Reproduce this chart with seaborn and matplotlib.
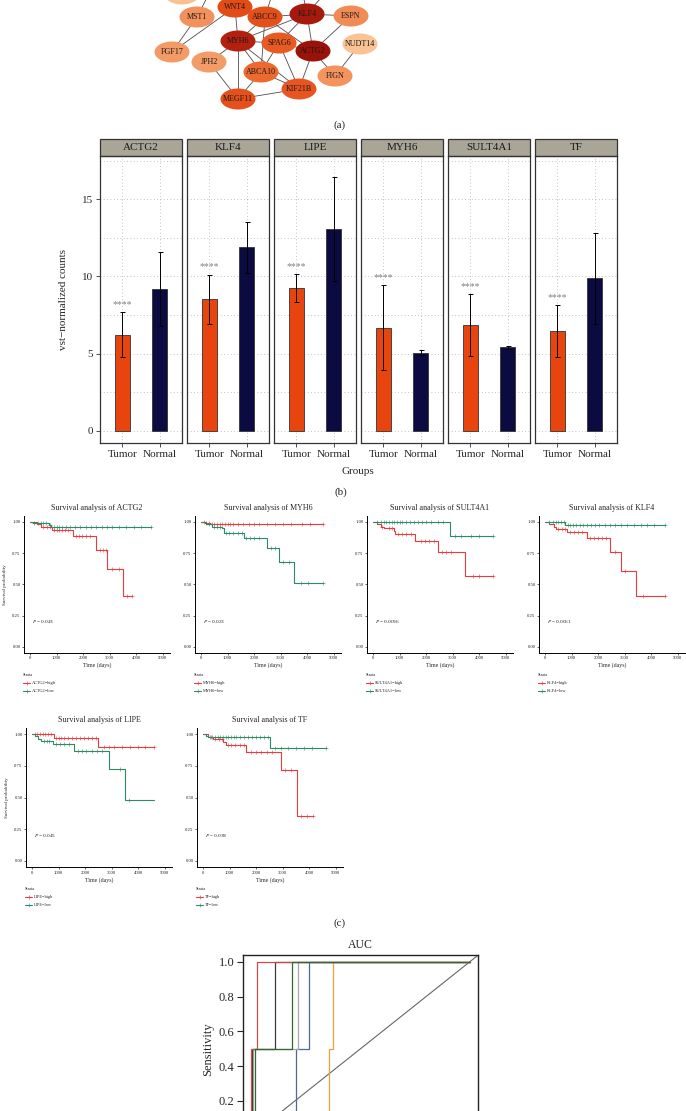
import numpy as np
import pandas as pd
import matplotlib
matplotlib.use("Agg")
import matplotlib.pyplot as plt
from matplotlib.patches import Ellipse, Rectangle
from matplotlib.lines import Line2D
import seaborn as sns

# ---------------- data ----------------
# (a) network
node_names = ["WNT4", "MST1", "ABCC9", "KLF4", "ESPN", "MYH6", "SPAG6", "ACTG2",
              "NUDT14", "FGF17", "JPH2", "ABCA10", "FIGN", "KIF21B", "MEGF11"]
node_colors = ["#E44C17", "#F2915C", "#E4501A", "#A51A0C", "#F28A55", "#B3200E",
               "#E85A22", "#9A1208", "#F9C394", "#F39A66", "#F49C68", "#EC6A30",
               "#F4935D", "#E85520", "#E6501B"]
net_edges = [("FGF17", "MST1"), ("FGF17", "WNT4"), ("WNT4", "MYH6"), ("WNT4", "ABCC9"),
             ("ABCC9", "KLF4"), ("KLF4", "ESPN"), ("KLF4", "ACTG2"), ("KLF4", "SPAG6"),
             ("KLF4", "MYH6"), ("ABCC9", "MYH6"), ("ABCC9", "ABCA10"), ("ABCC9", "ACTG2"),
             ("MYH6", "SPAG6"), ("MYH6", "JPH2"), ("MYH6", "MEGF11"), ("MYH6", "ABCA10"),
             ("MYH6", "KIF21B"), ("SPAG6", "ABCA10"), ("SPAG6", "KIF21B"), ("SPAG6", "ACTG2"),
             ("ACTG2", "KIF21B"), ("ACTG2", "FIGN"), ("ACTG2", "ESPN"), ("FIGN", "NUDT14"),
             ("JPH2", "MEGF11"), ("ABCA10", "MEGF11"), ("ABCA10", "KIF21B"),
             ("MEGF11", "KIF21B"), ("MST1", "top1"), ("ABCC9", "top2"), ("KLF4", "top3"),
             ("KLF4", "top4")]

# (b) expression bars
genes_b = ["ACTG2", "KLF4", "LIPE", "MYH6", "SULT4A1", "TF"]
groups = ["Tumor", "Normal"]
tumor_mean = [6.23, 8.53, 9.22, 6.64, 6.83, 6.46]
tumor_lo = [4.76, 6.94, 8.32, 3.90, 4.85, 4.78]
tumor_hi = [7.67, 10.10, 10.15, 9.44, 8.86, 8.12]
normal_mean = [9.18, 11.89, 13.08, 5.04, 5.41, 9.87]
normal_lo = [6.79, 10.19, 9.72, 4.90, 5.30, 6.90]
normal_hi = [11.55, 13.55, 16.42, 5.20, 5.50, 12.84]
signif = ["****", "****", "****", "****", "****", "****"]

# (c) survival curves: step times, survival, censor times
actg2_high_t = [0, 250, 420, 820, 1610, 2490, 2915, 3490, 3830]
actg2_high_s = [1, 0.98, 0.96, 0.938, 0.885, 0.772, 0.622, 0.407, 0.407]
actg2_high_c = [500, 650, 750, 900, 1000, 1100, 1200, 1300, 1450, 1750, 1850, 1950, 2100,
                2250, 2650, 2750, 2850, 3100, 3350, 3650, 3830]
actg2_low_t = [0, 120, 700, 800, 4560]
actg2_low_s = [1, 0.99, 0.975, 0.96, 0.96]
actg2_low_c = [150, 300, 400, 500, 600, 750, 900, 1000, 1100, 1200, 1350, 1500, 1700, 1900,
               2100, 2300, 2500, 2700, 2900, 3100, 3350, 3600, 3900, 4200, 4560]

myh6_high_t = [0, 150, 350, 4600]
myh6_high_s = [1, 0.99, 0.98, 0.98]
myh6_high_c = [100, 200, 300, 400, 500, 600, 700, 800, 900, 1000, 1100, 1200, 1400, 1600,
               1800, 2000, 2200, 2500, 2800, 3100, 3400, 3800, 4100, 4600]
myh6_low_t = [0, 190, 410, 800, 870, 1610, 2500, 2950, 3510, 4610]
myh6_low_s = [1, 0.98, 0.96, 0.95, 0.914, 0.874, 0.79, 0.68, 0.512, 0.512]
myh6_low_c = [300, 500, 600, 700, 950, 1050, 1200, 1400, 1550, 1700, 1850, 2000, 2200,
              2650, 2800, 3100, 3300, 3750, 4050, 4610]

sult4a1_high_t = [0, 160, 283, 406, 776, 837, 1601, 2463, 3460, 4532]
sult4a1_high_s = [1, 0.98, 0.96, 0.95, 0.925, 0.9, 0.85, 0.756, 0.566, 0.566]
sult4a1_high_c = [350, 600, 700, 950, 1100, 1250, 1450, 1800, 1950, 2100, 2300, 2600,
                  2750, 2950, 3750, 4000, 4532]
sult4a1_low_t = [0, 2906, 4532]
sult4a1_low_s = [1, 0.89, 0.89]
sult4a1_low_c = [150, 300, 400, 500, 600, 700, 800, 900, 1000, 1100, 1250, 1400, 1550,
                 1700, 1850, 2000, 2200, 2450, 2650, 3100, 3300, 3700, 4000, 4532]

klf4_high_t = [0, 149, 336, 398, 833, 1580, 2450, 2861, 3445, 4527]
klf4_high_s = [1, 0.98, 0.955, 0.94, 0.922, 0.868, 0.761, 0.61, 0.41, 0.41]
klf4_high_c = [500, 650, 750, 950, 1100, 1250, 1400, 1700, 1850, 2000, 2150, 2300, 2650,
               3000, 3700, 4527]
klf4_low_t = [0, 750, 4527]
klf4_low_s = [1, 0.976, 0.976]
klf4_low_c = [150, 300, 400, 500, 600, 700, 850, 950, 1050, 1150, 1300, 1450, 1600, 1750,
              1900, 2050, 2250, 2450, 2650, 2850, 3100, 3350, 3600, 3850, 4100, 4527]

lipe_high_t = [0, 819, 2481, 4578]
lipe_high_s = [1, 0.974, 0.897, 0.897]
lipe_high_c = [100, 200, 300, 400, 500, 600, 700, 900, 1000, 1100, 1200, 1350, 1500, 1650,
               1800, 1950, 2100, 2250, 2400, 2700, 2900, 3100, 3400, 3700, 4000, 4250, 4578]
lipe_low_t = [0, 100, 223, 347, 782, 1588, 2916, 3486, 4578]
lipe_low_s = [1, 0.985, 0.96, 0.945, 0.926, 0.868, 0.724, 0.482, 0.482]
lipe_low_c = [450, 550, 650, 900, 1050, 1200, 1400, 1750, 1900, 2050, 2250, 2450, 2650,
              3300, 3650]

tf_high_t = [0, 177, 367, 747, 848, 1633, 2924, 3532, 4139]
tf_high_s = [1, 0.98, 0.96, 0.94, 0.915, 0.859, 0.718, 0.359, 0.359]
tf_high_c = [300, 450, 600, 700, 950, 1050, 1200, 1400, 1550, 1800, 2000, 2200, 2400, 2600,
             3100, 3300, 3700, 3900, 4139]
tf_low_t = [0, 114, 177, 2519, 4633]
tf_low_s = [1, 0.99, 0.98, 0.896, 0.896]
tf_low_c = [250, 350, 450, 550, 650, 750, 850, 950, 1050, 1150, 1250, 1400, 1550, 1700,
            1850, 2000, 2150, 2300, 2450, 2700, 2950, 3200, 3500, 3800, 4100, 4633]

surv_genes = ["ACTG2", "MYH6", "SULT4A1", "KLF4", "LIPE", "TF"]
surv_pvals = ["0.043", "0.023", "0.0096", "0.0061", "0.045", "0.038"]

# (d) ROC: specificity where sensitivity steps to 0.5 and to 1.0
roc_genes = ["SULT4A1", "TF", "MYH6", "KLF4", "ACTG2", "LIPE"]
roc_spec_half = [0.796, 0.644, 0.992, 0.996, 1.0, 0.984]
roc_spec_full = [0.736, 0.625, 0.787, 0.89, 0.974, 0.813]

# ---------------- style ----------------
sns.set_style("white")
plt.rcParams["font.family"] = ["Liberation Serif", "DejaVu Serif"]
plt.rcParams["mathtext.fontset"] = "stix"

W, H = 686, 1111
fig = plt.figure(figsize=(W / 100, H / 100), dpi=100)


def px_axes(left, top, width, height):
    return fig.add_axes([left / W, 1 - (top + height) / H, width / W, height / H])


def ftext(x, y, s, **kw):
    fig.text(x / W, 1 - y / H, s, **kw)


# ---------------- (a) network ----------------
node_pos = {"WNT4": (235, 7), "MST1": (197, 17), "ABCC9": (265, 17), "KLF4": (307, 14),
            "ESPN": (351, 16), "MYH6": (238, 41), "SPAG6": (279, 43), "ACTG2": (313, 51),
            "NUDT14": (360, 44), "FGF17": (172, 52), "JPH2": (209, 62), "ABCA10": (261, 72),
            "FIGN": (335, 76), "KIF21B": (299, 89), "MEGF11": (238, 99),
            "top0": (182, -6), "top1": (214, -16), "top2": (276, -18), "top3": (300, -20),
            "top4": (333, -16)}
hidden_colors = {"top0": "#F9C090", "top1": "#F39A66", "top2": "#E85A22",
                 "top3": "#EC6A30", "top4": "#F28A55"}

ax = px_axes(0, 0, W, 110)
ax.set_xlim(0, W)
ax.set_ylim(110, 0)
ax.axis("off")
for a, b in net_edges:
    (x1, y1), (x2, y2) = node_pos[a], node_pos[b]
    ax.plot([x1, x2], [y1, y2], color="#4d4d4d", lw=0.6, zorder=1)
for name, col in hidden_colors.items():
    ax.add_patch(Ellipse(node_pos[name], 35, 21, facecolor=col, edgecolor="none", zorder=2))
for name, col in zip(node_names, node_colors):
    ax.add_patch(Ellipse(node_pos[name], 35, 21, facecolor=col, edgecolor="none", zorder=2))
    ax.text(*node_pos[name], name, ha="center", va="center", fontsize=5.8,
            color="#1a1a1a", zorder=3)
ftext(340, 125, "(a)", ha="center", va="center", fontsize=8)

# ---------------- (b) bars ----------------
TUMOR_C, NORMAL_C = "#E8440E", "#0B0B42"
facet_left = [100, 187, 274, 361, 448, 535]
for i, g in enumerate(genes_b):
    ax = px_axes(facet_left[i], 156, 82, 287)
    df = pd.DataFrame({"Groups": groups, "value": [tumor_mean[i], normal_mean[i]]})
    sns.barplot(data=df, x="Groups", y="value", hue="Groups", order=groups,
                palette={"Tumor": TUMOR_C, "Normal": NORMAL_C}, saturation=1, width=0.4,
                edgecolor="#333333", linewidth=0.6, legend=False, ax=ax, zorder=2)
    means = np.array([tumor_mean[i], normal_mean[i]])
    lo = np.array([tumor_lo[i], normal_lo[i]])
    hi = np.array([tumor_hi[i], normal_hi[i]])
    ax.errorbar([0, 1], means, yerr=[means - lo, hi - means], fmt="none",
                ecolor="black", elinewidth=0.7, capsize=1.8, capthick=0.7, zorder=3)
    ax.text(0, tumor_hi[i] + 0.5, signif[i], ha="center", va="center", fontsize=7,
            color="#808080")
    ax.set_xlim(-0.6, 1.6)
    ax.set_ylim(-0.8, 17.8)
    ax.set_yticks([0, 5, 10, 15])
    ax.set_yticks([2.5, 7.5, 12.5, 17.5], minor=True)
    ax.set_axisbelow(True)
    ax.grid(True, which="major", axis="both", color="#b0b0b0", ls=(0, (1, 3)), lw=0.6)
    ax.grid(True, which="minor", axis="y", color="#b0b0b0", ls=(0, (1, 3)), lw=0.6)
    ax.set_xlabel("")
    ax.set_ylabel("")
    for sp in ax.spines.values():
        sp.set_visible(True)
        sp.set_color("#333333")
        sp.set_linewidth(0.9)
    ax.tick_params(axis="x", length=3, width=0.6, color="#333333", labelsize=8, pad=2,
                   bottom=True)
    ax.tick_params(axis="y", which="minor", length=0)
    if i == 0:
        ax.tick_params(axis="y", which="major", length=3, width=0.6, color="#333333",
                       labelsize=8, pad=2, left=True)
    else:
        ax.tick_params(axis="y", which="both", length=0, labelleft=False)
    ax.add_patch(Rectangle((0, 1), 1, 17 / 287, transform=ax.transAxes, clip_on=False,
                           facecolor="#A9A697", edgecolor="#333333", lw=0.9))
    ax.text(0.5, 1 + 8.5 / 287, g, transform=ax.transAxes, ha="center", va="center",
            fontsize=8, color="#1a1a1a")

ftext(63, 299, "vst\u2212normalized counts", rotation=90, ha="center", va="center", fontsize=8)
ftext(358, 472, "Groups", ha="center", va="center", fontsize=8)
ftext(341, 492, "(b)", ha="center", va="center", fontsize=8)

# ---------------- (c) survival ----------------
RED, GREEN = "#EA3A3E", "#2B8C64"
surv_data = {
    "ACTG2": ((actg2_high_t, actg2_high_s, actg2_high_c), (actg2_low_t, actg2_low_s, actg2_low_c)),
    "MYH6": ((myh6_high_t, myh6_high_s, myh6_high_c), (myh6_low_t, myh6_low_s, myh6_low_c)),
    "SULT4A1": ((sult4a1_high_t, sult4a1_high_s, sult4a1_high_c),
                (sult4a1_low_t, sult4a1_low_s, sult4a1_low_c)),
    "KLF4": ((klf4_high_t, klf4_high_s, klf4_high_c), (klf4_low_t, klf4_low_s, klf4_low_c)),
    "LIPE": ((lipe_high_t, lipe_high_s, lipe_high_c), (lipe_low_t, lipe_low_s, lipe_low_c)),
    "TF": ((tf_high_t, tf_high_s, tf_high_c), (tf_low_t, tf_low_s, tf_low_c)),
}
surv_layout = [(24, 515.6, 137.4), (195, 515.6, 137.4), (367, 515.6, 137.4),
               (539, 515.6, 137.4), (26, 728, 139.3), (197, 728, 139.3)]

for k, gene in enumerate(surv_genes):
    left, top, height = surv_layout[k]
    ax = px_axes(left, top, 146, height)
    for (t, s, cens), col in zip(surv_data[gene], (RED, GREEN)):
        sns.lineplot(x=t, y=s, drawstyle="steps-post", color=col, linewidth=0.8,
                     estimator=None, ax=ax)
        idx = np.searchsorted(t, cens, side="right") - 1
        ax.plot(cens, np.asarray(s)[idx], ls="none", marker="+", ms=2.2, mew=0.4, color=col)
    ax.set_xlim(-226, 5275)
    ax.set_ylim(-0.05, 1.05)
    ax.set_xticks([0, 1000, 2000, 3000, 4000, 5000])
    ax.set_yticks([0, 0.25, 0.5, 0.75, 1.0])
    ax.set_yticklabels(["0.00", "0.25", "0.50", "0.75", "1.00"])
    ax.tick_params(length=1.5, width=0.5, labelsize=3.4, pad=1, bottom=True, left=True)
    for sp in ("top", "right"):
        ax.spines[sp].set_visible(False)
    for sp in ("left", "bottom"):
        ax.spines[sp].set_color("black")
        ax.spines[sp].set_linewidth(0.7)
    ax.set_title(f"Survival analysis of {gene}", fontsize=5.8, pad=4)
    ax.set_xlabel("Time (days)", fontsize=4.2, labelpad=1.5)
    if k in (0, 4):
        ax.set_ylabel("Survival probability", fontsize=3.6, labelpad=3.5)
    else:
        ax.set_ylabel("")
    ax.text(90, 0.2, r"$\mathit{P}$ = " + surv_pvals[k], fontsize=3.8, va="center")
    bottom = top + height
    ftext(left - 1, bottom + 22, "Strata", fontsize=3.2, va="center", ha="left")
    for j, (lab, col) in enumerate(((gene + "\u2212high", RED), (gene + "\u2212low", GREEN))):
        yy = 1 - (bottom + 30 + 7.5 * j) / H
        fig.add_artist(Line2D([(left - 1) / W, (left + 2.5) / W, (left + 6) / W], [yy] * 3,
                              color=col, lw=0.8, marker="+", ms=2.2, mew=0.4,
                              markevery=[1], transform=fig.transFigure))
        fig.text((left + 8) / W, yy, lab, fontsize=3.2, va="center", ha="left")

ftext(340, 923, "(c)", ha="center", va="center", fontsize=8)

# ---------------- (d) ROC (lower part falls below the figure edge) ----------------
roc_colors = ["#4E6A94", "#F0A030", "#A8A8A8", "#3C3C3C", "#CC4C4C", "#2E6B2E"]
ax = px_axes(242.7, 955, 235.6, 187.5)
for g, s1, s2, col in zip(roc_genes, roc_spec_half, roc_spec_full, roc_colors):
    spec = [1, s1, s1, s2, s2, 0]
    sens = [0, 0, 0.5, 0.5, 1, 1]
    ax.plot(spec, sens, color=col, lw=0.9, label=g)
ax.axline((1, 0), (0, 1), color="#666666", lw=0.8, zorder=0)
ax.set_xlim(1.04, -0.04)
ax.set_ylim(-0.04, 1.04)
ax.set_yticks([0.2, 0.4, 0.6, 0.8, 1.0])
ax.set_yticklabels(["0.2", "0.4", "0.6", "0.8", "1.0"])
ax.set_xticks([])
ax.tick_params(length=4, width=0.8, labelsize=9, pad=2, left=True)
for sp in ax.spines.values():
    sp.set_color("#222222")
    sp.set_linewidth(1.0)
ax.set_title("AUC", fontsize=8.5, pad=5)
ax.set_ylabel("Sensitivity", fontsize=9, labelpad=3)

fig.savefig("out.png", dpi=100)
